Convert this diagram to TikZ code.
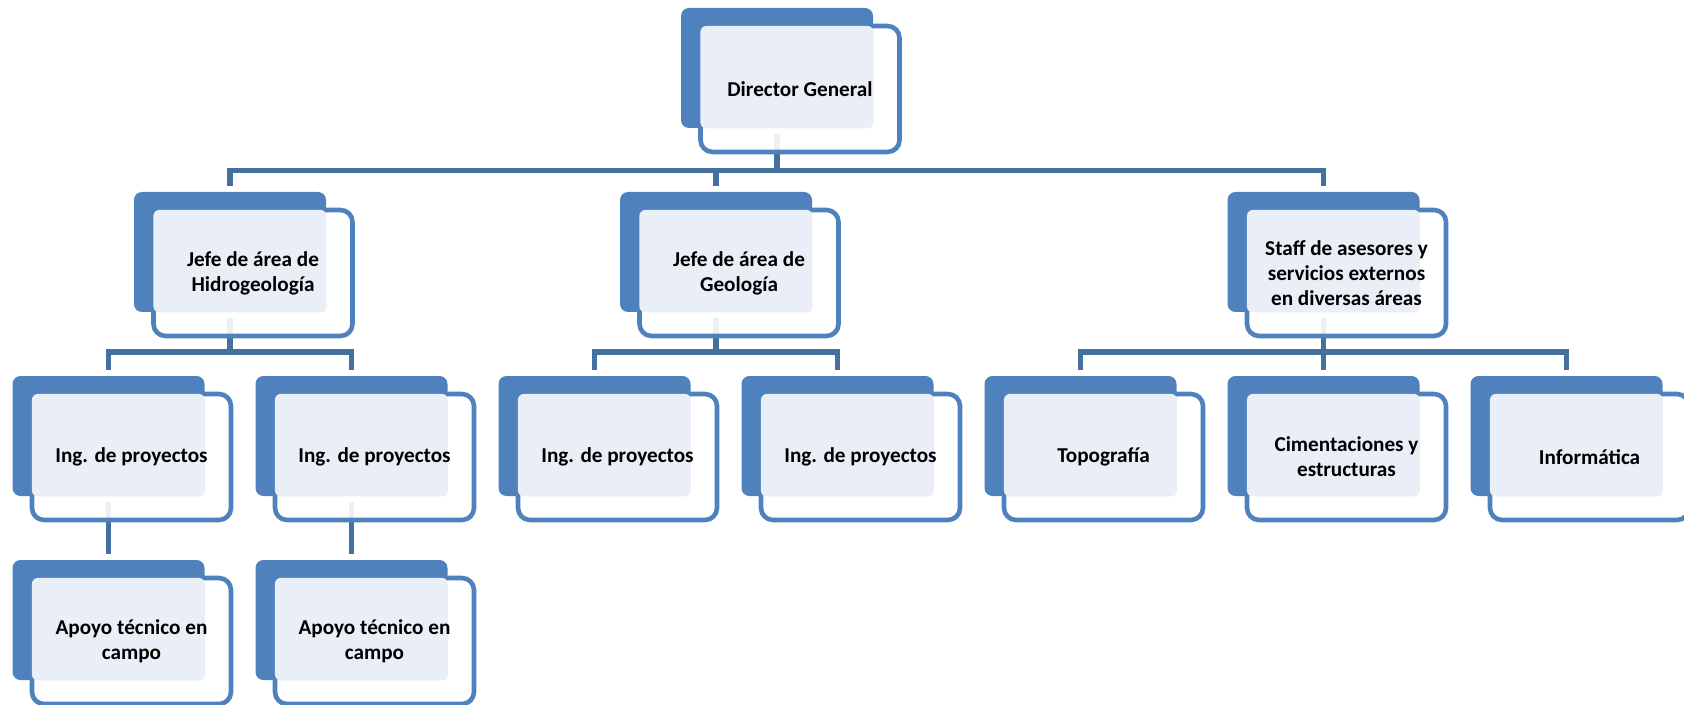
\documentclass[tikz,border=0pt]{standalone}
\usepackage{fontspec}
\setmainfont{Carlito}
\usepackage{tikz}
\usetikzlibrary{positioning, backgrounds}

\definecolor{unitblue}{HTML}{4F81BD}
\definecolor{unitlight}{HTML}{EAEFF7}
\definecolor{linkblue}{HTML}{44709F}

\tikzset{
  backbox/.style={fill=unitblue, rounded corners=4pt, minimum width=96pt, minimum height=60pt, inner sep=0pt},
  frontbox/.style={fill=white, fill opacity=0.9, draw=unitblue, line width=2.3pt, rounded corners=6pt, minimum width=99.5pt, minimum height=63pt, inner sep=0pt},
  lightfill/.style={fill=unitlight, rounded corners=3pt},
  unittext/.style={align=center, inner sep=0pt, font=\fontsize{10.6}{12.4}\selectfont\bfseries},
  link/.style={draw=linkblue, line width=2.6pt}
}

% back box, front box, light overlap, then the text
\newcommand{\orgunit}[4]{%
  \node[backbox] (#1b) at (#2,#3) {};
  \node[frontbox] (#1f) at ([shift={(23,21)}]#1b.center) {};
  \fill[lightfill] ([shift={(1.1pt,-1.1pt)}]#1f.north west) rectangle (#1b.south east);
  \node[unittext] (#1) at (#1f.center) {#4};
}

\begin{document}
\begin{tikzpicture}[x=0.5pt, y=-0.5pt]
  \useasboundingbox (0,0) rectangle (1684,705);

  \orgunit{dir}{777}{68}{Director General}

  \orgunit{hid}{230}{252}{Jefe de área de\\Hidrogeología}
  \orgunit{geo}{716}{252}{Jefe de área de\\Geología}
  \orgunit{sta}{1323.5}{252}{Staff de asesores y\\servicios externos\\en diversas áreas}

  \orgunit{ingA}{108.5}{436}{Ing. de proyectos}
  \orgunit{ingB}{351.5}{436}{Ing. de proyectos}
  \orgunit{ingC}{594.5}{436}{Ing. de proyectos}
  \orgunit{ingD}{837.5}{436}{Ing. de proyectos}
  \orgunit{topo}{1080.5}{436}{Topografía}
  \orgunit{cim}{1323.5}{436}{Cimentaciones y\\estructuras}
  \orgunit{inf}{1566.5}{436}{Informática}

  \orgunit{apoA}{108.5}{620}{Apoyo técnico en\\campo}
  \orgunit{apoB}{351.5}{620}{Apoyo técnico en\\campo}

  \begin{scope}[on background layer]
    \foreach \c in {hid, geo, sta}
      \draw[link] ([yshift=-3pt]dirb.south) -- ++(0,36.5) -| ([yshift=3pt]\c b.north);
    \foreach \c in {ingA, ingB}
      \draw[link] ([yshift=-3pt]hidb.south) -- ++(0,33.5) -| ([yshift=3pt]\c b.north);
    \foreach \c in {ingC, ingD}
      \draw[link] ([yshift=-3pt]geob.south) -- ++(0,33.5) -| ([yshift=3pt]\c b.north);
    \foreach \c in {topo, cim, inf}
      \draw[link] ([yshift=-3pt]stab.south) -- ++(0,33.5) -| ([yshift=3pt]\c b.north);
    \draw[link] ([yshift=-3pt]ingAb.south) -- ([yshift=3pt]apoAb.north);
    \draw[link] ([yshift=-3pt]ingBb.south) -- ([yshift=3pt]apoBb.north);
  \end{scope}
\end{tikzpicture}
\end{document}
